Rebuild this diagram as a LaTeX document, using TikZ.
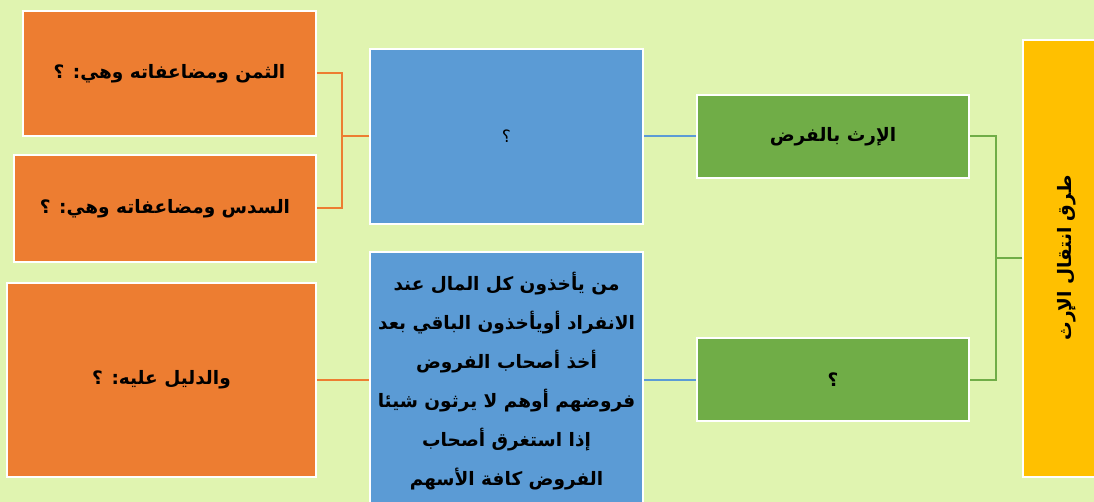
\documentclass[tikz,border=0pt]{standalone}
\usepackage{fontspec}
\newfontfamily\arabicfont[Script=Arabic]{DejaVu Sans}
\TeXXeTstate=1
\usetikzlibrary{positioning}
\definecolor{bgleaf}{HTML}{E0F4B0}
\definecolor{boxorange}{HTML}{ED7D31}
\definecolor{boxblue}{HTML}{5B9BD5}
\definecolor{boxgreen}{HTML}{70AD47}
\definecolor{boxgold}{HTML}{FFC000}
\newcommand{\ar}[1]{\beginR #1\endR}
\begin{document}
\begin{tikzpicture}[x=1pt,y=-1pt,
  box/.style={draw=white, line width=2pt, inner sep=0pt, align=center,
    font=\arabicfont\bfseries\fontsize{18.5}{39}\selectfont},
  link/.style={line width=2pt}]
\fill[bgleaf] (0,0) rectangle (1094,502);
\useasboundingbox (0,0) rectangle (1094,502);
\node[box, fill=boxgold, minimum width=77, minimum height=437] (root) at (1061.5,258.5){};
\node[rotate=90, font=\arabicfont\bfseries\fontsize{18.5}{20}\selectfont] (roottext) at (1067,258){\ar{طرق انتقال الإرث}};
\node[box, fill=boxgreen, minimum width=272, minimum height=83] (fard) at (833,136.5){\ar{الإرث بالفرض}};
\node[box, fill=boxgreen, minimum width=272, minimum height=83] (other) at (833,379.5){\ar{؟}};
\node[box, fill=boxblue, minimum width=273, minimum height=175, font=\arabicfont\fontsize{17}{20}\selectfont] (fardq) at (506.5,136.5){\ar{؟}};
\node[box, fill=boxblue, minimum width=273, minimum height=258] (otherdef) at (506.5,381){\ar{من يأخذون كل المال عند}\\\ar{الانفراد أويأخذون الباقي بعد}\\\ar{أخذ أصحاب الفروض}\\\ar{فروضهم أوهم لا يرثون شيئا}\\\ar{إذا استغرق أصحاب}\\\ar{الفروض كافة الأسهم}};
\node[box, fill=boxorange, minimum width=293, minimum height=125] (eighth) at (169.5,73.5){\ar{الثمن ومضاعفاته وهي: ؟}};
\node[box, fill=boxorange, minimum width=302, minimum height=107] (sixth) at (165,208.5){\ar{السدس ومضاعفاته وهي: ؟}};
\node[box, fill=boxorange, minimum width=309, minimum height=194] (proof) at (161.5,380){\ar{والدليل عليه: ؟}};
\draw[link, boxgreen](root.west) -- ++(-26,0) |- (fard.east);
\draw[link, boxgreen](root.west) -- ++(-26,0) |- (other.east);
\draw[link, boxblue](fardq.east) -- (fard.west);
\draw[link, boxblue](other.west) -- (other.west -| otherdef.east);
\draw[link, boxorange](fardq.west) -- ++(-27,0) |- (eighth.east);
\draw[link, boxorange](fardq.west) -- ++(-27,0) |- (sixth.east);
\draw[link, boxorange](proof.east) -- (proof.east -| otherdef.west);
\end{tikzpicture}
\end{document}
